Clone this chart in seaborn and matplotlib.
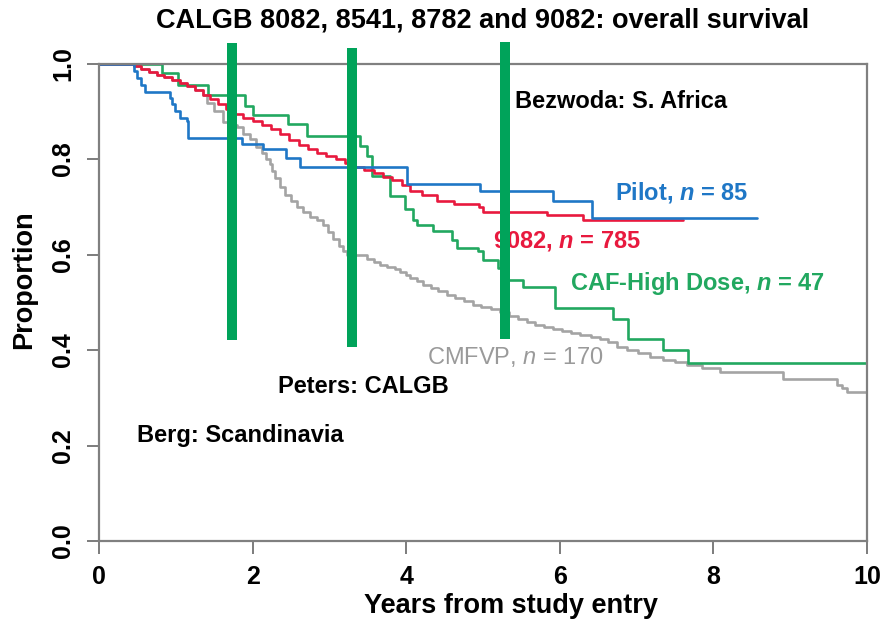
import numpy as np
import pandas as pd
import matplotlib
matplotlib.use("Agg")
import matplotlib.pyplot as plt
import seaborn as sns

sns.set_theme(style="white")
plt.rcParams['font.family'] = ['Liberation Sans', 'DejaVu Sans']
plt.rcParams['mathtext.fontset'] = 'custom'
plt.rcParams['mathtext.it'] = 'Liberation Sans:italic:bold'
plt.rcParams['mathtext.sf'] = 'Liberation Sans:italic'
plt.rcParams['mathtext.rm'] = 'Liberation Sans:bold'
plt.rcParams['text.color'] = 'black'
plt.rcParams['xtick.color'] = 'black'
plt.rcParams['ytick.color'] = 'black'

# ---- data ----
pilot_t = [0, 0.45, 0.50, 0.55, 0.60, 0.92, 0.95, 0.99, 1.05, 1.14, 1.16, 1.86, 2.14, 2.44, 2.62, 4.01, 4.96, 5.91, 6.42, 8.57]
pilot_s = [1.0, .985, .970, .955, .940, .928, .915, .900, .886, .879, .845, .831, .821, .803, .783, .748, .732, .711, .676, .676]

red_t = [0, 0.45, 0.55, 0.65, 0.75, 0.85, 0.95, 1.05, 1.15, 1.25,
         1.35, 1.45, 1.55, 1.65, 1.75, 1.88, 2.00, 2.12, 2.24, 2.36,
         2.48, 2.60, 2.72, 2.84, 2.96, 3.08, 3.20, 3.32, 3.45, 3.58,
         3.70, 3.82, 3.95, 4.05, 4.20, 4.40, 4.62, 4.95, 5.00, 5.83,
         6.30, 7.60]
red_s = [1.0, .995, .988, .982, .976, .972, .966, .960, .952, .944,
         .934, .926, .916, .905, .895, .886, .879, .871, .862, .853,
         .840, .829, .821, .813, .806, .799, .791, .784, .777, .770,
         .763, .757, .745, .733, .725, .712, .706, .700, .690, .682,
         .672, .672]

caf_t = [0, 0.82, 1.03, 1.42, 1.90, 2.01, 2.46, 2.71, 3.40, 3.49, 3.55, 3.79, 3.98, 4.09, 4.14,
         4.35, 4.60, 4.66, 4.93, 5.00, 5.20, 5.29, 5.52, 5.94, 6.69, 6.89, 7.34, 7.67, 10.0]
caf_s = [1.0, .981, .955, .935, .910, .893, .873, .848, .827, .806, .765, .723, .696, .672, .662,
         .649, .630, .613, .607, .588, .572, .547, .531, .489, .464, .423, .400, .373, .373]

cmf_t = [0, 0.45, 0.55, 0.65, 0.75, 0.85, 0.95, 1.05, 1.15, 1.25,
         1.35, 1.41, 1.50, 1.61, 1.70, 1.80, 1.88, 1.97, 2.05, 2.12,
         2.18, 2.23, 2.25, 2.29, 2.36, 2.42, 2.50, 2.58, 2.66, 2.75,
         2.84, 2.92, 2.98, 3.05, 3.12, 3.18, 3.23, 3.49, 3.58, 3.66,
         3.75, 3.85, 3.92, 4.00, 4.05, 4.14, 4.22, 4.32, 4.42, 4.53,
         4.64, 4.75, 4.87, 4.98, 5.10, 5.22, 5.34, 5.45, 5.57, 5.68,
         5.80, 5.91, 6.03, 6.15, 6.26, 6.40, 6.52, 6.63, 6.74, 6.88,
         7.02, 7.17, 7.35, 7.50, 7.66, 7.85, 8.09, 8.91, 9.61, 9.68,
         9.74, 10.0]
cmf_s = [1.0, .995, .988, .982, .976, .972, .966, .960, .952, .944,
         .934, .918, .900, .877, .872, .866, .853, .841, .826, .812,
         .800, .790, .775, .760, .742, .725, .712, .700, .688, .679,
         .672, .661, .648, .632, .618, .607, .599, .590, .584, .578,
         .573, .569, .564, .558, .551, .544, .537, .530, .523, .516,
         .509, .502, .495, .490, .485, .479, .472, .465, .458, .453,
         .449, .444, .440, .435, .431, .428, .424, .416, .406, .400,
         .393, .385, .380, .375, .369, .362, .354, .340, .327, .320,
         .313, .313]

groups = ["CMFVP", "CAF-High Dose", "9082", "Pilot"]
colors = {"CMFVP": "#A4A4A4", "CAF-High Dose": "#22A860", "9082": "#E8193E", "Pilot": "#1F77C6"}

# trial marker lines (x, y_bottom, y_top)
trial_x = [1.73, 3.30, 5.28]
trial_ybot = [0.421, 0.406, 0.423]
trial_ytop = [1.042, 1.032, 1.045]

x_ticks = [0, 2, 4, 6, 8, 10]
y_ticks = [0.0, 0.2, 0.4, 0.6, 0.8, 1.0]
y_ticklabels = ["0.0", "0.2", "0.4", "0.6", "0.8", "1.0"]

df = pd.concat([
    pd.DataFrame({"t": cmf_t, "s": cmf_s, "g": "CMFVP"}),
    pd.DataFrame({"t": caf_t, "s": caf_s, "g": "CAF-High Dose"}),
    pd.DataFrame({"t": red_t, "s": red_s, "g": "9082"}),
    pd.DataFrame({"t": pilot_t, "s": pilot_s, "g": "Pilot"}),
], ignore_index=True)

fig = plt.figure(figsize=(8.93, 6.24), dpi=100)
ax = fig.add_axes([99/893, (624-541)/624, (867-99)/893, (541-63.5)/624])

sns.lineplot(data=df, x="t", y="s", hue="g", hue_order=groups, palette=colors,
             estimator=None, sort=False, drawstyle="steps-post", linewidth=1.9,
             legend=False, ax=ax)

bar_color = "#00A35A"
for xb, y0, y1 in zip(trial_x, trial_ybot, trial_ytop):
    ax.plot([xb, xb], [y0, y1], color=bar_color, lw=7.2, solid_capstyle="butt",
            clip_on=False, zorder=5)

ax.set_xlim(0, 10)
ax.set_ylim(0, 1.0)
ax.set_xticks(x_ticks)
ax.set_xticklabels([str(v) for v in x_ticks], fontsize=18, fontweight="bold")
ax.set_yticks(y_ticks)
ax.set_yticklabels(y_ticklabels, fontsize=18, fontweight="bold", rotation=90, va="center")
ax.tick_params(axis="both", which="both", bottom=True, left=True, direction="out",
               length=9, width=1.2, color="#666666", labelcolor="black", pad=8)
for sp in ax.spines.values():
    sp.set_visible(True)
    sp.set_color("#808080")
    sp.set_linewidth(1.6)
ax.set_xlabel("")
ax.set_ylabel("")

# annotations
fs = 17
ax.text(5.42, 0.920, "Bezwoda: S. Africa", fontsize=fs, fontweight="bold", color="black", va="center")
ax.text(6.72, 0.730, "Pilot, $n$ = 85", fontsize=fs, fontweight="bold", color=colors["Pilot"], va="center")
ax.text(5.13, 0.628, "9082, $n$ = 785", fontsize=fs, fontweight="bold", color=colors["9082"], va="center")
ax.text(6.13, 0.539, "CAF-High Dose, $n$ = 47", fontsize=fs, fontweight="bold", color=colors["CAF-High Dose"], va="center")
ax.text(4.27, 0.385, "CMFVP, $\\mathsf{n}$ = 170", fontsize=fs, color="#9A9A9A", va="center")
ax.text(2.33, 0.323, "Peters: CALGB", fontsize=fs, fontweight="bold", color="black", va="center")
ax.text(0.49, 0.220, "Berg: Scandinavia", fontsize=fs, fontweight="bold", color="black", va="center")

fig.text(483/893, 1-20/624, "CALGB 8082, 8541, 8782 and 9082: overall survival",
         fontsize=19.5, fontweight="bold", ha="center", va="center", color="black")
fig.text(511/893, 1-606/624, "Years from study entry", fontsize=19.5, fontweight="bold",
         ha="center", va="center", color="black")
fig.text(24/893, 1-280/624, "Proportion", fontsize=19.5, fontweight="bold",
         ha="center", va="center", rotation=90, color="black")

fig.savefig("out.png", dpi=100)
